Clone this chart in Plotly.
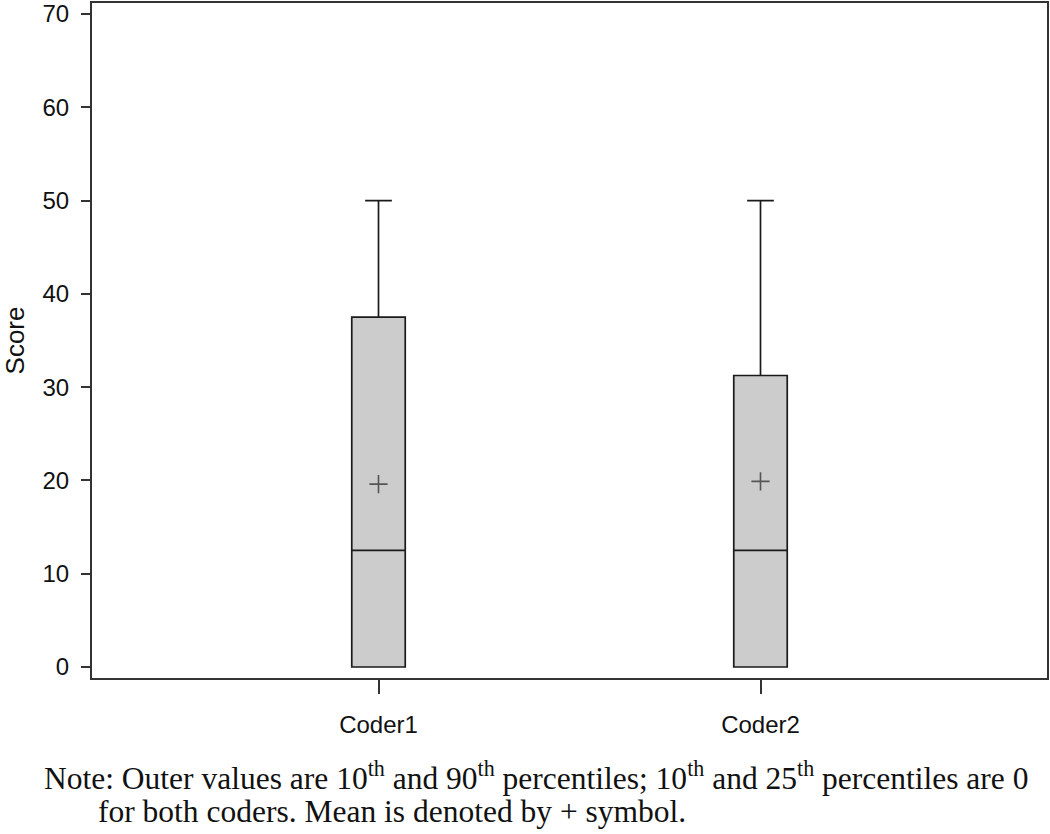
import plotly.graph_objects as go

# Data
coders = ["Coder1", "Coder2"]
p10 = [0, 0]
q1 = [0, 0]
median = [12.5, 12.5]
q3 = [37.5, 31.25]
p90 = [50, 50]
means = [19.6, 19.9]
y_ticks = [0, 10, 20, 30, 40, 50, 60, 70]

fig = go.Figure()
for i, c in enumerate(coders):
    fig.add_trace(go.Box(
        x=[c], q1=[q1[i]], median=[median[i]], q3=[q3[i]],
        lowerfence=[p10[i]], upperfence=[p90[i]],
        width=0.14, whiskerwidth=0.5,
        fillcolor="#cccccc",
        line=dict(color="#1a1a1a", width=1.7),
        showlegend=False, hoverinfo="skip",
    ))

fig.add_trace(go.Scatter(
    x=coders, y=means, mode="markers",
    marker=dict(symbol="cross-thin", size=13,
                line=dict(color="#555555", width=1.6)),
    showlegend=False, hoverinfo="skip",
))

axis_font = dict(family="Liberation Sans, Arial, sans-serif", size=24, color="#111111")

fig.update_layout(
    width=1050, height=834,
    margin=dict(l=92, r=3, t=1, b=156),
    plot_bgcolor="white", paper_bgcolor="white",
    xaxis=dict(
        type="category", range=[-0.75, 1.75],
        showline=True, mirror=True, linecolor="#333333", linewidth=2,
        ticks="outside", ticklen=14, tickwidth=1.5, tickcolor="#333333",
        tickfont=axis_font, showgrid=False, zeroline=False,
        ticklabelstandoff=10,
    ),
    yaxis=dict(
        range=[-1.18, 71.18], tickvals=y_ticks,
        showline=True, mirror=True, linecolor="#333333", linewidth=2,
        ticks="outside", ticklen=9, tickwidth=1.5, tickcolor="#333333",
        tickfont=axis_font, showgrid=False, zeroline=False,
        ticklabelstandoff=7,
        title=dict(text="Score", font=dict(family="Liberation Sans, Arial, sans-serif", size=26, color="#111111"), standoff=12),
        automargin=False,
    ),
    annotations=[
        dict(text="Note: Outer values are 10<sup>th</sup> and 90<sup>th</sup> percentiles; 10<sup>th</sup> and 25<sup>th</sup> percentiles are 0",
             xref="paper", yref="paper", x=(42 - 92) / 955, y=-0.145,
             xanchor="left", yanchor="middle", showarrow=False,
             font=dict(family="Liberation Serif, Times New Roman, serif", size=31.5, color="#111111")),
        dict(text="for both coders. Mean is denoted by + symbol.",
             xref="paper", yref="paper", x=(96 - 92) / 955, y=-0.198,
             xanchor="left", yanchor="middle", showarrow=False,
             font=dict(family="Liberation Serif, Times New Roman, serif", size=31.5, color="#111111")),
    ],
)

fig.write_html("out.html", config={"displayModeBar": False},
               post_script="document.body.style.margin='0';")
